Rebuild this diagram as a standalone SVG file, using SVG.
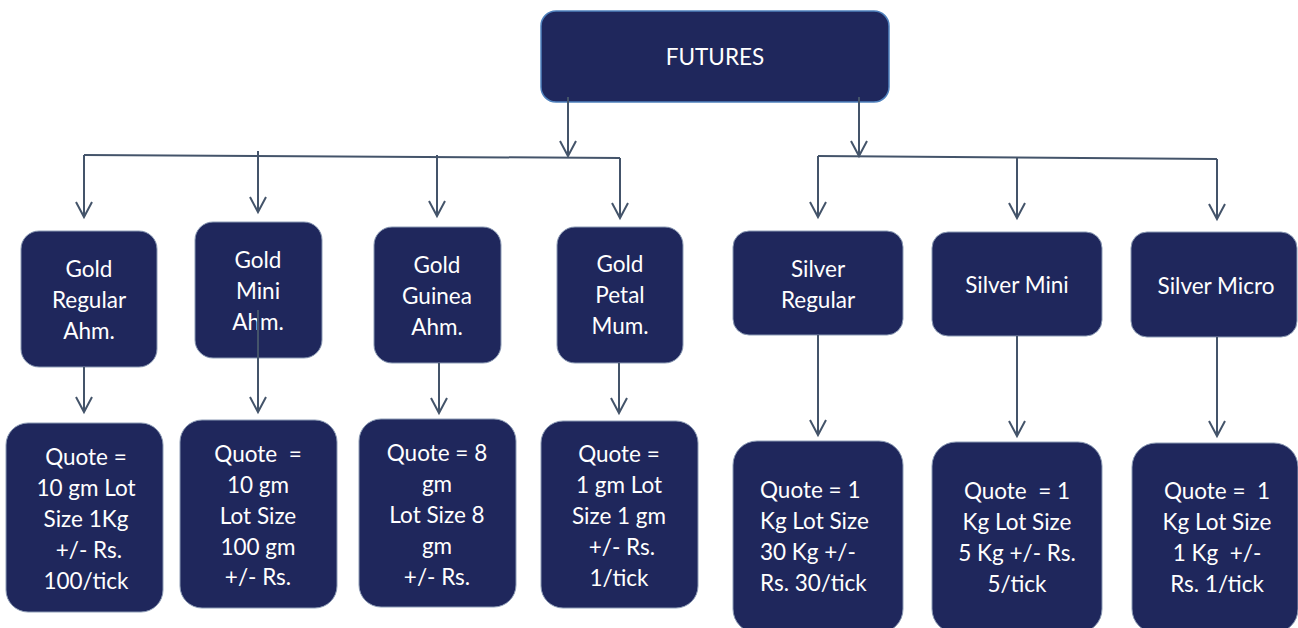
<svg xmlns="http://www.w3.org/2000/svg" width="1298" height="628" viewBox="0 0 1298 628">
<defs>
<style>
.box{fill:#1f275c;stroke:#8c9bb5;stroke-width:1}
.top{fill:#1f275c;stroke:#4f81bd;stroke-width:1.5}
.t{font-family:Lato,"Liberation Sans",sans-serif;font-size:22.5px;fill:#ffffff;text-anchor:middle;white-space:pre}
.tl{text-anchor:start}
.c{stroke:#44546a;stroke-width:2;fill:none}
</style>
<marker id="ah" markerUnits="userSpaceOnUse" markerWidth="20" markerHeight="20" viewBox="-16 -10 18 20" refX="0" refY="0" orient="auto">
<path d="M-15,-8 L0,0 L-15,8" fill="none" stroke="#44546a" stroke-width="2"/>
</marker>
</defs>
<rect width="1298" height="628" fill="#ffffff"/>

<g id="n-futures">
<rect class="top" x="541" y="11" width="348" height="91" rx="15"/>
<text class="t" x="715" y="65">FUTURES</text>
</g>

<g id="n-gold-regular">
<rect class="box" x="21" y="231" width="136" height="136" rx="18"/>
<text class="t" x="89" y="277">Gold</text>
<text class="t" x="89" y="308">Regular</text>
<text class="t" x="89" y="339">Ahm.</text>
</g>
<g id="n-gold-mini">
<rect class="box" x="195" y="222" width="127" height="136" rx="18"/>
<text class="t" x="258" y="268">Gold</text>
<text class="t" x="258" y="299">Mini</text>
<text class="t" x="258" y="330">Ahm.</text>
</g>
<g id="n-gold-guinea">
<rect class="box" x="374" y="227" width="127" height="136" rx="18"/>
<text class="t" x="437" y="273">Gold</text>
<text class="t" x="437" y="304">Guinea</text>
<text class="t" x="437" y="335">Ahm.</text>
</g>
<g id="n-gold-petal">
<rect class="box" x="557" y="227" width="126" height="136" rx="18"/>
<text class="t" x="620" y="272">Gold</text>
<text class="t" x="620" y="303">Petal</text>
<text class="t" x="620" y="334">Mum.</text>
</g>
<g id="n-silver-regular">
<rect class="box" x="733" y="231" width="170" height="104" rx="16"/>
<text class="t" x="818" y="277">Silver</text>
<text class="t" x="818" y="308">Regular</text>
</g>
<g id="n-silver-mini">
<rect class="box" x="932" y="232" width="170" height="104" rx="16"/>
<text class="t" x="1017" y="293">Silver Mini</text>
</g>
<g id="n-silver-micro">
<rect class="box" x="1131" y="232" width="166" height="105" rx="16"/>
<text class="t" x="1216" y="294">Silver Micro</text>
</g>

<g id="n-q-gold-regular">
<rect class="box" x="6" y="423" width="157" height="189" rx="22"/>
<text class="t" x="86" y="465">Quote =</text>
<text class="t" x="86" y="496">10 gm Lot</text>
<text class="t" x="86" y="527">Size 1Kg</text>
<text class="t" x="86" y="558"> +/- Rs.</text>
<text class="t" x="86" y="589">100/tick</text>
</g>
<g id="n-q-gold-mini">
<rect class="box" x="180" y="420" width="157" height="188" rx="22"/>
<text class="t" x="258" y="462">Quote  =</text>
<text class="t" x="258" y="493">10 gm</text>
<text class="t" x="258" y="524">Lot Size</text>
<text class="t" x="258" y="555">100 gm</text>
<text class="t" x="258" y="585">+/- Rs.</text>
</g>
<g id="n-q-gold-guinea">
<rect class="box" x="359" y="419" width="157" height="188" rx="22"/>
<text class="t" x="437" y="461">Quote = 8</text>
<text class="t" x="437" y="492">gm</text>
<text class="t" x="437" y="523">Lot Size 8</text>
<text class="t" x="437" y="554">gm</text>
<text class="t" x="437" y="585">+/- Rs.</text>
</g>
<g id="n-q-gold-petal">
<rect class="box" x="541" y="421" width="157" height="187" rx="22"/>
<text class="t" x="619" y="462">Quote =</text>
<text class="t" x="619" y="493">1 gm Lot</text>
<text class="t" x="619" y="524">Size 1 gm</text>
<text class="t" x="619" y="555"> +/- Rs.</text>
<text class="t" x="619" y="586">1/tick</text>
</g>
<g id="n-q-silver-regular">
<rect class="box" x="733" y="441" width="170" height="192" rx="24"/>
<text class="t tl" x="760" y="498">Quote = 1</text>
<text class="t tl" x="760" y="529">Kg Lot Size</text>
<text class="t tl" x="760" y="560">30 Kg +/-</text>
<text class="t tl" x="760" y="591">Rs. 30/tick</text>
</g>
<g id="n-q-silver-mini">
<rect class="box" x="932" y="442" width="170" height="191" rx="24"/>
<text class="t" x="1017" y="499">Quote  = 1</text>
<text class="t" x="1017" y="530">Kg Lot Size</text>
<text class="t" x="1017" y="561">5 Kg +/- Rs.</text>
<text class="t" x="1017" y="592">5/tick</text>
</g>
<g id="n-q-silver-micro">
<rect class="box" x="1132" y="443" width="166" height="190" rx="24"/>
<text class="t" x="1217" y="499">Quote =  1</text>
<text class="t" x="1217" y="530">Kg Lot Size</text>
<text class="t" x="1217" y="561">1 Kg  +/-</text>
<text class="t" x="1217" y="592">Rs. 1/tick</text>
</g>

<g id="connectors">
<line class="c" x1="568" y1="97" x2="568" y2="156" marker-end="url(#ah)"/>
<line class="c" x1="859" y1="97" x2="859" y2="156" marker-end="url(#ah)"/>
<path class="c" d="M84,155 L620,158"/>
<path class="c" d="M818,156 L1217,159"/>
<line class="c" x1="84" y1="155" x2="84" y2="217" marker-end="url(#ah)"/>
<line class="c" x1="258" y1="151" x2="258" y2="212" marker-end="url(#ah)"/>
<line class="c" x1="437" y1="155" x2="437" y2="216" marker-end="url(#ah)"/>
<line class="c" x1="620" y1="158" x2="620" y2="218" marker-end="url(#ah)"/>
<line class="c" x1="818" y1="156" x2="818" y2="217" marker-end="url(#ah)"/>
<line class="c" x1="1017" y1="158" x2="1017" y2="218" marker-end="url(#ah)"/>
<line class="c" x1="1217" y1="159" x2="1217" y2="219" marker-end="url(#ah)"/>
<line class="c" x1="84" y1="367" x2="84" y2="412" marker-end="url(#ah)"/>
<line class="c" x1="258" y1="310" x2="258" y2="412" marker-end="url(#ah)"/>
<line class="c" x1="439" y1="363" x2="439" y2="413" marker-end="url(#ah)"/>
<line class="c" x1="619" y1="363" x2="619" y2="413" marker-end="url(#ah)"/>
<line class="c" x1="818" y1="335" x2="818" y2="435" marker-end="url(#ah)"/>
<line class="c" x1="1017" y1="336" x2="1017" y2="436" marker-end="url(#ah)"/>
<line class="c" x1="1217" y1="337" x2="1217" y2="436" marker-end="url(#ah)"/>
</g>
</svg>
